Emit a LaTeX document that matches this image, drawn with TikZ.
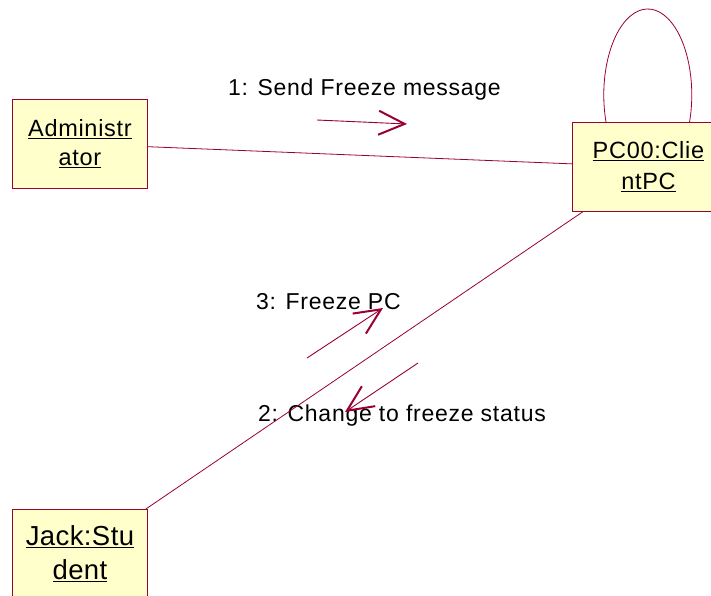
\documentclass[tikz,border=0pt]{standalone}
\usepackage{fontspec}
\setmainfont{Liberation Sans}
\usetikzlibrary{arrows.meta}
\definecolor{umlline}{HTML}{990033}
\definecolor{umlfill}{HTML}{FFFFCC}
% underlined word with a heavier rule than \underline
\newcommand{\ulw}[1]{\setbox0=\hbox{#1}\rlap{\rule[-3pt]{\wd0}{1.7pt}}\box0}
\begin{document}
\begin{tikzpicture}[x=1pt,y=-1pt,
  object/.style={draw=umlline, line width=0.9pt, fill=umlfill, rectangle,
    inner sep=0pt, align=center, anchor=north west,
    minimum width=135pt, minimum height=89pt},
  objfont/.style={font=\fontsize{23.5}{29}\selectfont\addfontfeatures{LetterSpace=3}},
  link/.style={draw=umlline, line width=0.8pt},
  msg/.style={draw=umlline, line width=0.9pt,
    -{Straight Barb[length=26pt,width=24pt,line width=2pt]}},
  msglabel/.style={anchor=base west, inner sep=0pt, text=black,
    font=\fontsize{23}{26}\selectfont\addfontfeatures{LetterSpace=3.2}},
]
\clip (0,0) rectangle (711,595);
\fill[white] (0,0) rectangle (711,595);

% objects
\node[object, objfont] (admin) at (12,99) {\ulw{Administr}\\\ulw{ator}};
\node[object, font=\fontsize{23.5}{31}\selectfont\addfontfeatures{LetterSpace=3},
      minimum width=152pt] (pc) at (572,122) {\ulw{PC00:Clie}\\\ulw{ntPC}};
\node[object, font=\fontsize{27.5}{34}\selectfont\addfontfeatures{LetterSpace=1.5}]
      (jack) at (12,509) {\ulw{Jack:Stu}\\\ulw{dent}};

% message labels
\node[msglabel] (l1) at (228,95) {1: Send Freeze message};
\node[msglabel] (l3) at (256,309) {3: Freeze PC};
\node[msglabel] (l2) at (258,421) {2: Change to freeze status};

% links between objects
\draw[link] (admin) -- (pc);
\draw[link] (pc) -- (jack);
\coordinate (loopA) at (606,122);
\draw[link] (loopA) arc[start angle=198.3, end angle=-18.3, x radius=44pt, y radius=86pt];

% message arrows
\coordinate (m1s) at (317,120);
\coordinate (m1e) at (407,124);
\coordinate (m3s) at (307,358);
\coordinate (m3e) at (383,308);
\coordinate (m2s) at (418,363);
\coordinate (m2e) at (345,412);
\draw[msg] (m1s) -- (m1e);
\draw[msg] (m3s) -- (m3e);
\draw[msg] (m2s) -- (m2e);
\end{tikzpicture}
\end{document}
